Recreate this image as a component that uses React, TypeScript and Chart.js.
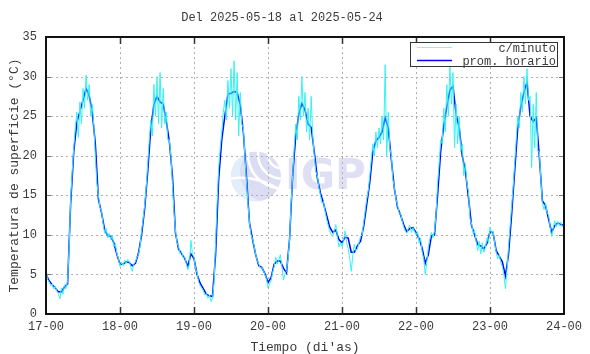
import React, { useEffect, useRef } from 'react';
import { Chart, registerables } from 'chart.js';

Chart.register(...registerables);

const titleText = 'Del 2025-05-18 al 2025-05-24';
const xAxisTitle = "Tiempo (di'as)";
const yAxisTitle = 'Temperatura de superficie (°C)';
const xTickLabels = ['17-00', '18-00', '19-00', '20-00', '21-00', '22-00', '23-00', '24-00'];
const seriesNames = ['c/minuto', 'prom. horario'];

// hourly means (prom. horario), one value per hour, day by day
const hourly17 = [5.0, 4.2, 3.7, 3.3, 2.8, 2.8, 3.4, 3.8, 14.0, 20.5, 24.2, 25.6, 27.0, 28.5, 27.6, 25.5, 21.5, 14.5, 12.8, 10.7, 9.9, 9.8, 9.0, 7.5];
const hourly18 = [6.3, 6.3, 6.6, 6.5, 6.1, 6.4, 7.7, 10.0, 13.3, 18.0, 23.5, 26.5, 27.5, 26.8, 26.5, 24.4, 21.8, 17.5, 10.2, 8.2, 7.6, 7.0, 6.0, 7.6];
const hourly19 = [7.0, 5.0, 3.9, 3.2, 2.5, 2.3, 2.2, 7.5, 17.0, 22.0, 25.0, 27.8, 27.9, 28.1, 28.0, 26.4, 23.0, 17.5, 11.5, 9.4, 7.5, 6.1, 5.9, 5.1];
const hourly20 = [4.0, 4.6, 6.3, 6.7, 6.7, 5.8, 5.2, 9.5, 17.5, 22.5, 25.3, 26.6, 25.8, 24.0, 23.6, 20.5, 17.2, 15.3, 14.0, 12.5, 11.0, 10.3, 10.6, 9.4];
const hourly21 = [9.0, 9.7, 9.6, 7.8, 7.8, 8.6, 9.2, 11.0, 13.8, 16.6, 20.5, 21.9, 22.3, 23.0, 24.8, 23.5, 19.5, 15.8, 13.5, 12.5, 11.3, 10.4, 10.8, 10.9];
const hourly22 = [10.3, 9.5, 8.3, 6.4, 7.5, 9.9, 10.0, 15.0, 20.5, 23.8, 26.2, 28.3, 28.8, 25.2, 23.6, 20.0, 18.1, 14.8, 11.2, 10.0, 8.8, 8.6, 8.2, 8.9];
const hourly23 = [10.4, 10.3, 8.0, 7.3, 6.6, 4.8, 7.5, 12.5, 18.0, 23.5, 26.2, 28.0, 29.3, 25.0, 24.3, 24.8, 19.9, 14.3, 13.7, 12.0, 10.3, 11.2, 11.5, 11.3];
const hourlyEnd = [11.2];

// per-minute readings (c/minuto), sampled every half hour, day by day
const minute17 = [5.9, 4.4, 4.1, 3.6, 3.8, 3.2, 3.5, 2.9, 2.6, 1.9, 3.3, 2.5, 3.7, 3.2, 4.2, 8.5, 14.5, 18.0, 21.0, 23.5, 25.5, 22.3, 26.8, 24.0, 28.5, 26.0, 30.2, 27.0, 29.0, 25.0, 26.5, 23.8, 20.0, 16.5, 15.0, 13.5, 13.0, 11.5, 10.2, 10.8, 9.6, 10.2, 9.4, 9.9, 8.5, 8.9, 7.6, 7.0];
const minute18 = [6.0, 6.5, 6.1, 6.8, 6.4, 6.9, 6.7, 5.9, 5.4, 6.3, 6.6, 7.2, 7.5, 8.6, 10.5, 12.0, 13.8, 16.0, 19.0, 22.0, 24.5, 22.5, 29.0, 25.0, 30.0, 24.0, 30.5, 23.5, 28.5, 24.0, 25.5, 22.0, 22.0, 20.0, 16.5, 13.0, 10.5, 9.0, 8.5, 7.6, 7.9, 7.1, 7.2, 6.4, 5.6, 6.3, 9.3, 7.6];
const minute19 = [7.2, 5.8, 5.2, 4.0, 3.6, 3.3, 3.0, 2.4, 2.6, 2.0, 2.4, 1.6, 2.0, 4.0, 9.0, 14.0, 18.5, 21.0, 23.0, 25.5, 27.0, 24.5, 29.5, 26.0, 31.0, 25.0, 32.0, 24.5, 30.5, 22.5, 28.0, 24.0, 23.5, 20.0, 17.0, 14.0, 11.5, 10.0, 9.5, 8.6, 7.5, 6.8, 6.3, 5.8, 6.0, 5.5, 5.0, 4.5];
const minute20 = [3.3, 3.8, 4.2, 5.3, 6.0, 7.2, 6.3, 6.8, 7.5, 6.0, 4.3, 5.0, 5.5, 7.0, 9.5, 14.0, 17.5, 21.0, 24.0, 22.0, 27.5, 24.5, 30.0, 25.0, 28.0, 23.0, 26.0, 22.0, 27.5, 22.5, 20.0, 18.0, 17.5, 16.0, 15.0, 14.0, 14.2, 13.0, 12.0, 11.2, 10.5, 10.0, 9.8, 10.6, 11.3, 9.8, 8.5, 9.0];
const minute21 = [8.5, 9.3, 10.5, 9.0, 8.3, 7.0, 5.4, 7.4, 8.8, 8.0, 8.2, 9.0, 9.8, 10.0, 11.5, 13.0, 14.5, 15.5, 17.5, 19.5, 21.5, 20.0, 23.0, 21.0, 23.5, 21.5, 25.0, 22.0, 31.5, 20.0, 25.5, 21.0, 20.0, 17.0, 16.0, 14.5, 13.8, 12.8, 12.7, 11.8, 11.0, 10.5, 10.2, 10.8, 11.2, 10.3, 10.9, 10.5];
const minute22 = [10.0, 10.4, 9.0, 9.6, 7.8, 7.0, 5.0, 6.5, 8.5, 9.5, 10.3, 9.6, 10.5, 12.5, 16.5, 19.0, 22.0, 21.5, 26.0, 23.0, 29.0, 25.0, 31.3, 26.5, 30.5, 21.0, 26.5, 21.5, 25.0, 20.5, 21.5, 17.5, 19.0, 16.5, 15.5, 12.0, 11.5, 10.2, 10.6, 9.2, 8.0, 9.2, 7.6, 9.0, 7.8, 8.4, 9.6, 9.0];
const minute23 = [11.0, 10.2, 10.5, 9.0, 7.8, 7.0, 7.5, 6.5, 6.0, 5.0, 3.2, 5.5, 8.5, 11.0, 13.5, 16.0, 19.0, 22.0, 25.0, 23.5, 28.0, 25.5, 30.0, 26.5, 31.0, 27.0, 27.5, 18.5, 26.5, 21.0, 28.0, 20.5, 20.5, 17.0, 14.0, 13.2, 14.0, 12.8, 12.5, 11.0, 9.8, 10.8, 11.8, 11.0, 11.7, 11.2, 11.6, 11.0];
const minuteEnd = [11.3];

const W = 590;
const H = 354;
const MONO = "'Liberation Mono', 'DejaVu Sans Mono', monospace";
const TEXT = '#3a3a3a';

export default function App() {
  const ref = useRef<HTMLCanvasElement>(null);

  useEffect(() => {
    const canvas = ref.current;
    if (!canvas) return;

    const hourly = [...hourly17, ...hourly18, ...hourly19, ...hourly20, ...hourly21, ...hourly22, ...hourly23, ...hourlyEnd];
    const minute = [...minute17, ...minute18, ...minute19, ...minute20, ...minute21, ...minute22, ...minute23, ...minuteEnd];
    const blueData = hourly.map((v, i) => ({ x: i, y: v }));
    const cyanData = minute.map((v, i) => ({ x: i / 2, y: v }));
    const xMax = (xTickLabels.length - 1) * 24;

    const decor = {
      id: 'decor',
      beforeDatasetsDraw(chart: any) {
        const { ctx, chartArea: a, scales } = chart;
        const xs = scales.x;
        const ys = scales.y;
        ctx.save();
        // watermark logo
        const mx = (a.left + a.right) / 2;
        const my = (a.top + a.bottom) / 2;
        const cx = mx - 49;
        const cy = my + 1;
        const r = 25;
        ctx.save();
        ctx.beginPath();
        ctx.arc(cx, cy, r, 0, Math.PI * 2);
        ctx.clip();
        ctx.fillStyle = '#dcdcf3';
        ctx.fillRect(cx - r, cy - r, 2 * r, 2 * r);
        ctx.fillStyle = '#e3eefb';
        ctx.beginPath();
        ctx.arc(cx + 14, cy - 4, 30, Math.PI * 0.55, Math.PI * 1.35);
        ctx.lineTo(cx - r, cy - r);
        ctx.lineTo(cx - r, cy + r);
        ctx.closePath();
        ctx.fill();
        ctx.strokeStyle = '#ffffff';
        ctx.lineWidth = 2.5;
        [14, 24, 34].forEach((rr) => {
          ctx.beginPath();
          ctx.arc(cx + 26, cy - 22, rr, Math.PI * 0.45, Math.PI * 1.1);
          ctx.stroke();
        });
        ctx.beginPath();
        ctx.moveTo(cx - r, cy + 2);
        ctx.quadraticCurveTo(cx, cy - 2, cx + r, cy + 14);
        ctx.stroke();
        ctx.restore();
        ctx.fillStyle = '#e0e0f4';
        ctx.font = "bold 42px 'DejaVu Sans', sans-serif";
        ctx.textAlign = 'left';
        ctx.textBaseline = 'middle';
        ctx.fillText('IGP', mx - 20, cy + 2);

        // dotted grid
        ctx.strokeStyle = '#b0b0b0';
        ctx.lineWidth = 1;
        ctx.setLineDash([2, 3]);
        for (let i = 1; i < xTickLabels.length - 1; i++) {
          const px = Math.round(xs.getPixelForValue(i * 24)) + 0.5;
          ctx.beginPath();
          ctx.moveTo(px, a.top);
          ctx.lineTo(px, a.bottom);
          ctx.stroke();
        }
        for (let v = 5; v < 35; v += 5) {
          const py = Math.round(ys.getPixelForValue(v)) + 0.5;
          ctx.beginPath();
          ctx.moveTo(a.left, py);
          ctx.lineTo(a.right, py);
          ctx.stroke();
        }
        ctx.restore();
      },
      afterDatasetsDraw(chart: any) {
        const { ctx, chartArea: a, scales } = chart;
        const xs = scales.x;
        const ys = scales.y;
        ctx.save();
        ctx.setLineDash([]);
        // tick marks
        ctx.strokeStyle = '#333';
        ctx.lineWidth = 1.5;
        for (let i = 1; i < xTickLabels.length - 1; i++) {
          const px = Math.round(xs.getPixelForValue(i * 24)) + 0.5;
          ctx.beginPath();
          ctx.moveTo(px, a.bottom);
          ctx.lineTo(px, a.bottom - 7);
          ctx.moveTo(px, a.top);
          ctx.lineTo(px, a.top + 7);
          ctx.stroke();
        }
        ctx.strokeStyle = '#777';
        ctx.lineWidth = 1;
        for (let v = 5; v < 35; v += 5) {
          const py = Math.round(ys.getPixelForValue(v)) + 0.5;
          ctx.beginPath();
          ctx.moveTo(a.left, py);
          ctx.lineTo(a.left + 5, py);
          ctx.moveTo(a.right, py);
          ctx.lineTo(a.right - 5, py);
          ctx.stroke();
        }
        // frame
        ctx.strokeStyle = '#111';
        ctx.lineWidth = 2;
        ctx.strokeRect(a.left, a.top, a.right - a.left, a.bottom - a.top);

        // legend
        const bx0 = a.right - 154;
        const bx1 = a.right - 7;
        const by0 = a.top + 5;
        const by1 = a.top + 29;
        ctx.fillStyle = '#ffffff';
        ctx.fillRect(bx0, by0, bx1 - bx0, by1 - by0);
        ctx.strokeStyle = '#333';
        ctx.lineWidth = 1;
        ctx.strokeRect(Math.round(bx0) + 0.5, Math.round(by0) + 0.5, bx1 - bx0, by1 - by0);
        const rows = [
          { label: seriesNames[0], color: '#7ff5f5', width: 1, y: by0 + 5.5 },
          { label: seriesNames[1], color: '#0000ff', width: 1.5, y: by0 + 18.5 },
        ];
        ctx.font = `12px ${MONO}`;
        ctx.textAlign = 'right';
        ctx.textBaseline = 'middle';
        rows.forEach((row) => {
          ctx.strokeStyle = row.color;
          ctx.lineWidth = row.width;
          ctx.beginPath();
          ctx.moveTo(bx0 + 7, row.y);
          ctx.lineTo(bx0 + 42, row.y);
          ctx.stroke();
          ctx.fillStyle = TEXT;
          ctx.fillText(row.label, bx1 - 1, row.y + 1);
        });
        ctx.restore();
      },
    };

    const chart = new Chart(canvas, {
      type: 'line',
      data: {
        datasets: [
          {
            label: seriesNames[0],
            data: cyanData,
            borderColor: '#33f3f3',
            borderWidth: 1,
            pointRadius: 0,
            tension: 0,
          },
          {
            label: seriesNames[1],
            data: blueData,
            borderColor: '#0000ff',
            borderWidth: 1.5,
            pointRadius: 0,
            tension: 0,
          },
        ],
      },
      options: {
        responsive: false,
        animation: false,
        devicePixelRatio: 1,
        parsing: true,
        layout: { padding: { left: 0, right: 26, top: 0, bottom: 0 } },
        plugins: {
          legend: { display: false },
          tooltip: { enabled: false },
          title: {
            display: true,
            text: titleText,
            color: TEXT,
            font: { family: MONO, size: 12, weight: 'normal', lineHeight: 1.2 },
            padding: { top: 11, bottom: 11.6 },
          },
        },
        scales: {
          x: {
            type: 'linear',
            min: 0,
            max: xMax,
            afterFit: (s: any) => {
              s.height = 40;
            },
            grid: { display: false, drawTicks: false },
            border: { display: false },
            ticks: {
              stepSize: 24,
              autoSkip: false,
              maxRotation: 0,
              padding: 6,
              color: TEXT,
              font: { family: MONO, size: 12 },
              callback: (v: any) => xTickLabels[Math.round(Number(v) / 24)] ?? '',
            },
            title: {
              display: true,
              text: xAxisTitle,
              color: TEXT,
              font: { family: MONO, size: 13, lineHeight: 1 },
              padding: { top: 0, bottom: 0 },
            },
          },
          y: {
            type: 'linear',
            min: 0,
            max: 35,
            afterFit: (s: any) => {
              s.width = 46;
            },
            grid: { display: false, drawTicks: false },
            border: { display: false },
            ticks: {
              stepSize: 5,
              padding: 9,
              color: TEXT,
              font: { family: MONO, size: 12 },
            },
            title: {
              display: true,
              text: yAxisTitle,
              color: TEXT,
              font: { family: MONO, size: 13, lineHeight: 1.2 },
              padding: { top: 7, bottom: 0 },
            },
          },
        },
      },
      plugins: [decor],
    });

    return () => chart.destroy();
  }, []);

  return (
    <div style={{ position: 'absolute', left: 0, top: 0, width: W, height: H, background: '#fff' }}>
      <canvas ref={ref} width={W} height={H} style={{ display: 'block', width: W, height: H }} />
    </div>
  );
}
